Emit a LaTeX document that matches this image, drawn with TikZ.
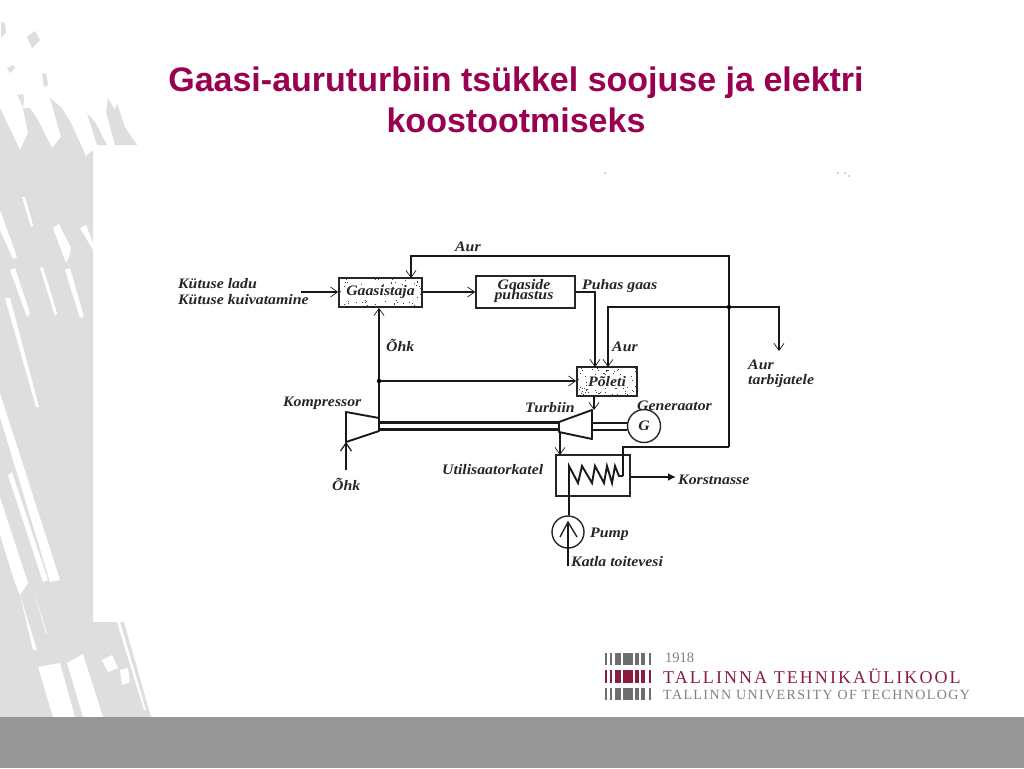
\documentclass[tikz,border=0pt]{standalone}
\usepackage{fontspec}
\setmainfont{Liberation Serif}
\newfontfamily\titlefont{Liberation Sans}
\newfontfamily\lblfont[FakeStretch=1.09]{Liberation Serif}
\newfontfamily\logoA[LetterSpace=11.5]{Liberation Serif}
\newfontfamily\logoB[LetterSpace=10]{Liberation Serif}
\usetikzlibrary{arrows.meta,calc}
\definecolor{bggray}{HTML}{DEDEDE}
\definecolor{bandgray}{HTML}{969696}
\definecolor{titlecol}{HTML}{990050}
\definecolor{logored}{HTML}{8C1C3E}
\definecolor{logogray}{HTML}{6E6E6E}
\tikzset{
  bgshape/.style={fill=bggray,draw=none},
  hole/.style={fill=white,draw=none},
  pipe/.style={draw=black!90,line width=1.9pt,line join=miter},
  thin pipe/.style={pipe,line width=1.6pt},
  arr/.style={pipe,-{Straight Barb[length=7pt,width=10pt,line width=.7pt]}},
  thinarr/.style={thin pipe,-{Straight Barb[length=7pt,width=10pt,line width=.7pt]}},
  solidarr/.style={thin pipe,-{Latex[length=8pt,width=8pt]}},
  unit/.style={draw=black!85,line width=1.8pt,fill=white,inner sep=0pt},
  lab/.style={font=\lblfont\fontsize{14.5}{14.5}\selectfont\bfseries\itshape,inner sep=0pt,anchor=west,text=black!85,yshift=-1pt},
  boxlab/.style={font=\lblfont\fontsize{14.5}{10.5}\selectfont\itshape\bfseries,align=center,text=black!85},
  stipple/.style 2 args={path picture={
    \foreach \i in {1,...,90}{
      \pgfmathsetmacro\xa{rnd*#1}\pgfmathsetmacro\ya{rnd*#2}
      \fill[black!75] ([xshift=\xa pt,yshift=\ya pt]path picture bounding box.south west) rectangle +(.8pt,.8pt);
    }}},
  logobar/.style={fill=logogray,draw=none},
  logobarr/.style={fill=logored,draw=none},
}
\pgfmathsetseed{1918}
\begin{document}
\begin{tikzpicture}[x=1pt,y=-1pt]
\useasboundingbox (0,0) rectangle (1024,768);
\fill[white] (0,0) rectangle (1024,768);
% background artwork
\fill[bgshape] (0,108)--(20,150)--(28,133)--(23,108)--(30,108)--(38,120)--(52,148)--(61,137)--(50,98)--(62,108)--(72,125)--(86,156)--(93,150)--(93,622)--(118,622)--(124,622)--(151,717)--(0,717)--cycle;
\fill[bgshape] (27,37)--(35,31)--(40,40)--(32,48)--cycle;
\fill[bgshape] (1,22)--(5,23)--(6,33)--(1,38)--cycle;
\fill[bgshape] (7,68)--(13,65)--(15,68)--(10,73)--cycle;
\fill[bgshape] (42,74)--(46,73)--(48,85)--(44,87)--cycle;
\fill[bgshape] (17,95)--(23,94)--(24,100)--(23,108)--(20,100)--cycle;
\fill[bgshape] (87,113)--(95,122)--(107,145)--(97,145)--cycle;
\fill[bgshape] (106,112)--(108,98)--(115,110)--(117,103)--(125,127)--(137,145)--(115,145)--cycle;
\fill[hole] (22,197)--(25,197)--(33,225)--(31,227)--cycle;
\fill[hole] (53,228)--(59,224)--(71,248)--(69,257)--(66,263)--cycle;
\fill[hole] (80,228)--(86,225)--(93,243)--(93,250)--cycle;
\fill[hole] (0,210)--(17,257)--(13,259)--(0,230)--cycle;
\fill[hole] (10,270)--(15,268)--(30,313)--(27,317)--cycle;
\fill[hole] (40,268)--(43,267)--(57,313)--(55,316)--cycle;
\fill[hole] (65,270)--(70,268)--(84,317)--(80,318)--cycle;
\fill[hole] (5,298)--(10,298)--(39,407)--(36,407)--cycle;
\fill[hole] (0,393)--(60,580)--(50,582)--(0,417)--cycle;
\fill[hole] (8,475)--(12,472)--(48,580)--(43,582)--cycle;
\fill[hole] (0,497)--(28,583)--(20,595)--(15,583)--(0,535)--cycle;
\fill[hole] (20,595)--(37,650)--(33,650)--cycle;
\fill[hole] (33,590)--(47,633)--(46,633)--cycle;
\fill[hole] (38,667)--(60,663)--(75,717)--(53,717)--cycle;
\fill[hole] (67,663)--(83,654)--(103,717)--(83,717)--cycle;
\fill[hole] (117,622)--(120,622)--(146,710)--(144,710)--cycle;
\fill[hole] (102,660)--(112,655)--(118,668)--(108,672)--cycle;
\fill[hole] (120,670)--(128,668)--(130,682)--(122,685)--cycle;
\fill[bandgray] (0,717) rectangle (1024,768);
% title
\node[text=titlecol,font=\titlefont\fontsize{34}{41}\selectfont\bfseries,align=center] (title) at (516,100) {Gaasi-auruturbiin tsükkel soojuse ja elektri\\koostootmiseks};
% specks
\fill[black!70] (605,173) circle (.6pt) (838,173) circle (.6pt) (845,173) circle (.6pt) (849,176) circle (.6pt);
% units
\node[unit,stipple={83}{29},minimum width=83pt,minimum height=29pt] (gas) at (380.5,292.5) {};
\node[boxlab,fill=white,inner ysep=1pt,inner xsep=1pt] (gaslab) at (gas.center) {Gaasistaja};
\node[unit,minimum width=99pt,minimum height=32pt] (pur) at (525.5,292) {};
\node[boxlab] (purlab) at (524,291) {Gaaside\\puhastus};
\node[unit,stipple={60}{29},minimum width=60pt,minimum height=29pt] (pol) at (607,381.5) {};
\node[boxlab,fill=white,inner ysep=1pt,inner xsep=1pt] (pollab) at (pol.center) {Põleti};
\node[unit,minimum width=74pt,minimum height=41pt,line width=1.5pt] (boil) at (593,475.5) {};
\node[draw=black!85,line width=1.4pt,circle,minimum size=33pt,inner sep=0pt,fill=white] (gen) at (644,426) {};
\node[boxlab] (genlab) at (gen.center) {G};
\node[draw=black!85,line width=1.4pt,circle,minimum size=32pt,inner sep=0pt,fill=white] (pump) at (568,532) {};
% named points
\coordinate (fuel) at (301,292);
\coordinate (steamT) at (729,256);
\coordinate (steamB) at (729,447);
\coordinate (jn) at (729,307);
\coordinate (userEnd) at (779,351);
\coordinate (ohkJ) at (379,381);
\coordinate (coilIn) at (623,476);
\coordinate (c1) at (346,412);\coordinate (c2) at (379,418);\coordinate (c3) at (379,431);\coordinate (c4) at (346,442);
\coordinate (t1) at (559,422);\coordinate (t2) at (592,410);\coordinate (t3) at (592,439);\coordinate (t4) at (559,432);
\coordinate (airIn) at (346,470);
\coordinate (feed) at (569,566);
\coordinate (exit) at (676,477);
% turbine / compressor
\draw[pipe,line join=round] (c1)--(c2)--(c3)--(c4)--cycle;
\draw[pipe,line join=round] (t1)--(t2)--(t3)--(t4)--cycle;
\draw[line width=2.4pt,black!90] (379,422.5)--(559,422.5) (379,429.5)--(559,429.5);
\draw[line width=2.4pt,black!90] (gen.west |- 0,423)--(592,423) (gen.west |- 0,430)--(592,430);
% connectors
\draw[arr] (fuel)--(gas.west |- fuel);
\draw[arr] (gas.east |- fuel)--(pur.west |- fuel);
\draw[arr] (steamB)--(steamT)--(411,256)--(411,278);
\draw[pipe] (steamB)--(623,447)--(coilIn);
\draw[arr] (pur.east)--(595,292)--(595,367);
\draw[arr] (jn)--(608,307)--(608,367);
\draw[arr] (jn)--(779,307)--(userEnd);
\draw[arr] (c2)--(379,361)--(gas.south -| 379,0);
\draw[thinarr] (ohkJ)--(pol.west |- ohkJ);
\fill (ohkJ) circle (2.2pt) (jn) circle (2.2pt);
\draw[arr] (594,396)--(594,410);
\draw[thinarr] (560,432)--(560,455);
\draw[pipe,-{Straight Barb[length=8pt,width=11pt,line width=1.2pt]}] (airIn)--(c4);
\draw[solidarr] (boil.east |- exit)--(exit);
% coil
\draw[pipe] (pump.north -| 569,0)--(569,466)--(578,483)--(582,466)--(592,483)--(595,466)--(604,483)--(607,466)--(612,483)--(615,466)--(619,476)--(coilIn);
% pump
\draw[pipe] (feed -| 568,0)--(568,523);
\draw[line width=1.4pt,black!85] (560,537)--(568,522)--(577,537);
% labels
\node[lab] (l1) at (455,246) {Aur};
\node[lab] (l2) at (178,283) {Kütuse ladu};
\node[lab] (l3) at (178,299) {Kütuse kuivatamine};
\node[lab] (l4) at (386,344) {Õhk};
\node[lab] (l5) at (582,285) {Puhas gaas};
\node[lab] (l6) at (612,346) {Aur};
\node[lab] (l7) at (748,364) {Aur};
\node[lab] (l8) at (748,380) {tarbijatele};
\node[lab] (l9) at (283,402) {Kompressor};
\node[lab] (l10) at (525,407) {Turbiin};
\node[lab] (l11) at (637,405) {Generaator};
\node[lab] (l12) at (332,483) {Õhk};
\node[lab] (l13) at (442,469) {Utilisaatorkatel};
\node[lab] (l14) at (678,479) {Korstnasse};
\node[lab] (l15) at (590,533) {Pump};
\node[lab] (l16) at (571,561) {Katla toitevesi};
% logo
\foreach \y/\h/\st in {653/12/logobar,670/13/logobarr,688/12/logobar}{
  \foreach \a/\b in {605/607,609.5/612,615/620.5,623/633,635/638.5,641/645,649/650.5}{
    \fill[\st] (\a,\y) rectangle (\b,\y+\h);
  }
}
\node[anchor=west,inner sep=0pt,text=gray,font=\fontsize{14.5}{14.5}\selectfont] (yr) at (665,657.5) {1918};
\node[anchor=west,inner sep=0pt,text=logored,font=\logoA\fontsize{18}{18}\selectfont] (ttu) at (663,676) {TALLINNA TEHNIKAÜLIKOOL};
\node[anchor=west,inner sep=0pt,text=gray,font=\logoB\fontsize{14}{14}\selectfont] (ttue) at (663,695) {TALLINN UNIVERSITY OF TECHNOLOGY};
\end{tikzpicture}
\end{document}
